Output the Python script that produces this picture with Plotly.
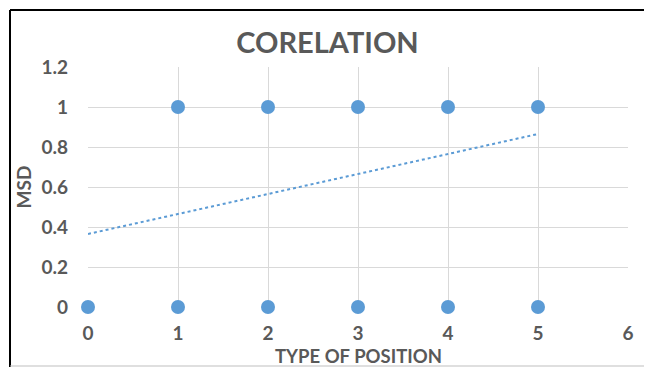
import plotly.graph_objects as go

# Data
x_vals = [0, 1, 2, 3, 4, 5, 1, 2, 3, 4, 5]
y_vals = [0, 0, 0, 0, 0, 0, 1, 1, 1, 1, 1]
trend_x = [0, 5]
trend_y = [0.365, 0.865]
x_ticks = [0, 1, 2, 3, 4, 5, 6]
y_ticks = [0, 0.2, 0.4, 0.6, 0.8, 1.0, 1.2]
y_tick_text = ["<b>0</b>", "<b>0.2</b>", "<b>0.4</b>", "<b>0.6</b>", "<b>0.8</b>", "<b>1</b>", "<b>1.2</b>"]
x_tick_text = ["<b>%d</b>" % v for v in x_ticks]

BLUE = "#5B9BD5"
GRAY = "#595959"
FONT = "Lato"

# page body has an 8px margin: figure coords = screen coords - 8
OFF = 8

fig = go.Figure()
fig.add_trace(go.Scatter(x=trend_x, y=trend_y, mode="lines",
                         line=dict(color=BLUE, width=2, dash="dot"),
                         hoverinfo="skip", showlegend=False))
fig.add_trace(go.Scatter(x=x_vals, y=y_vals, mode="markers",
                         marker=dict(color=BLUE, size=14),
                         showlegend=False, cliponaxis=False))

fig.update_layout(
    width=652, height=367,
    margin=dict(l=88 - OFF, r=652 - 540 - (88 - OFF), t=67 - OFF,
                b=367 - 240 - (67 - OFF), autoexpand=False),
    paper_bgcolor="white", plot_bgcolor="white",
    font=dict(family=FONT, color=GRAY),
    title=dict(text="<b>CORELATION</b>", xref="container",
               x=(327.5 - OFF) / 652, xanchor="center",
               y=1 - (42.5 - OFF) / 367, yanchor="middle",
               font=dict(size=29, color=GRAY, family=FONT)),
    xaxis=dict(range=[0, 6], tickvals=x_ticks, ticktext=x_tick_text,
               showgrid=True, automargin=False,
               gridcolor="#D9D9D9", gridwidth=1, zeroline=False,
               showline=False, ticks="", ticklabelstandoff=13,
               tickfont=dict(size=19, color=GRAY, family=FONT)),
    yaxis=dict(range=[0, 1.2], tickvals=y_ticks, ticktext=y_tick_text,
               showgrid=True, gridcolor="#D9D9D9", gridwidth=1,
               automargin=False,
               zeroline=False, showline=False, ticks="",
               ticklabelstandoff=19,
               tickfont=dict(size=19, color=GRAY, family=FONT),
               title=dict(text="<b>MSD</b>", standoff=4,
                          font=dict(size=19, color=GRAY, family=FONT))),
)

# Outer chart border (cropped at right and bottom in the picture)
px0, pw = 88, 540
py0, ph = 307, 240
def xp(p):
    return (p - px0) / pw
def yp(p):
    return (py0 - p) / ph

# x-axis title, kept just inside the bottom edge
fig.add_annotation(text="<b>TYPE OF POSITION</b>", xref="paper", yref="paper",
                   x=0.5, y=yp(368), xanchor="center", yanchor="bottom",
                   showarrow=False, borderpad=0,
                   font=dict(size=18.5, color=GRAY, family=FONT))

fig.add_shape(type="line", xref="paper", yref="paper",
              x0=xp(10), x1=xp(670), y0=yp(10), y1=yp(10),
              line=dict(color="black", width=2))
fig.add_shape(type="line", xref="paper", yref="paper",
              x0=xp(10), x1=xp(10), y0=yp(10), y1=yp(380),
              line=dict(color="black", width=2))
fig.add_shape(type="line", xref="paper", yref="paper",
              x0=xp(10), x1=xp(670), y0=yp(366), y1=yp(366),
              line=dict(color="#BFBFBF", width=1))

fig.write_html("out.html")
